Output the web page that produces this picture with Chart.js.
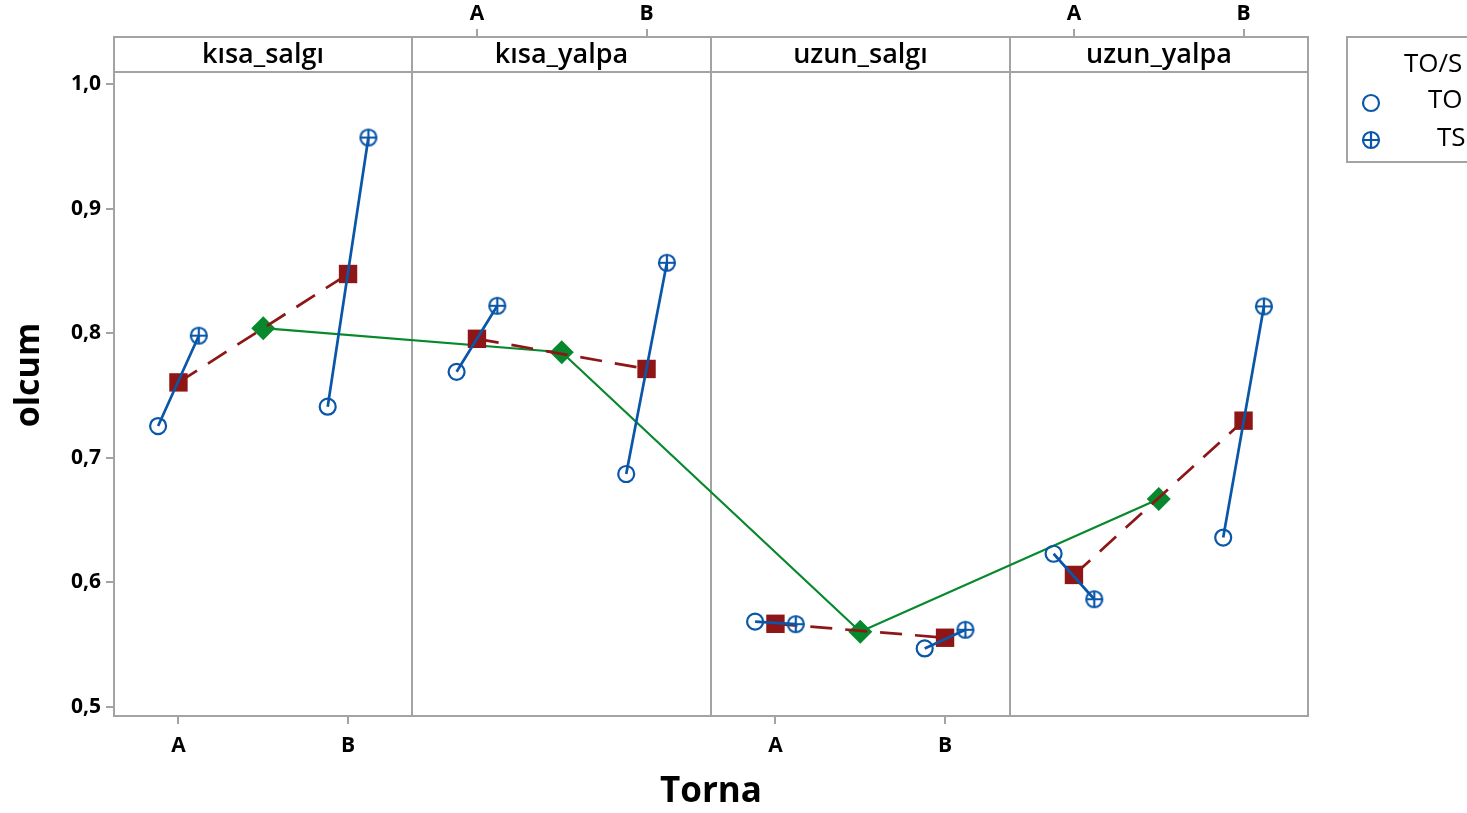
<!DOCTYPE html>
<html>
<head>
<meta charset="utf-8">
<title>olcum - Torna</title>
<script src="https://cdn.jsdelivr.net/npm/chart.js@4.4.1/dist/chart.umd.min.js"></script>
<style>
  html, body { margin: 0; padding: 0; background: #fff; }
  #wrap { width: 1467px; height: 813px; }
</style>
</head>
<body>
<div id="wrap"><canvas id="multiVari" width="1467" height="813"></canvas></div>
<script>
// panels (faktör) and Torna levels
const panels = ['kısa_salgı', 'kısa_yalpa', 'uzun_salgı', 'uzun_yalpa'];
const torna = ['A', 'B'];
const groups = ['TO', 'TS'];
const legendTitle = 'TO/S';

// olcum values, [A, B] for each panel
const toValues = [[0.7255, 0.741], [0.769, 0.687], [0.5685, 0.547], [0.623, 0.636]];
const tsValues = [[0.798, 0.957], [0.822, 0.8565], [0.5665, 0.562], [0.5865, 0.8215]];
const tornaMeans = [[0.7605, 0.8475], [0.7955, 0.7713], [0.5668, 0.5556], [0.606, 0.7298]];
const panelMeans = [0.804, 0.7847, 0.5604, 0.6669];

const yTicks = [0.5, 0.6, 0.7, 0.8, 0.9, 1.0];
const bottomPanels = [0, 2];   // A/B under these panels
const topPanels = [1, 3];      // A/B above these panels

const BLUE = '#0a56a8';
const RED = '#8e1616';
const GREEN = '#07882c';
const GRAY = '#a3a3a3';
const FONT = "'Open Sans', 'Noto Sans', sans-serif";

// x position inside the shared linear axis
const X0 = 0.62, PANEL_W = 1.76, DODGE = 0.12;
function xPos(p, t, off) {
    return p * PANEL_W + 1 + t + (off || 0);
}

// circle with a plus, for TS
function makePlus() {
    const c = document.createElement('canvas');
    c.width = 22; c.height = 22;
    const g = c.getContext('2d');
    g.strokeStyle = BLUE;
    g.lineWidth = 2.2;
    g.beginPath();
    g.arc(11, 11, 8, 0, 2 * Math.PI);
    g.moveTo(3, 11); g.lineTo(19, 11);
    g.moveTo(11, 3); g.lineTo(11, 19);
    g.stroke();
    return c;
}
const plusImg = makePlus();

// blue segments TO -> TS, broken with nulls
const bluePts = [];
const redPts = [];
panels.forEach((name, p) => {
    torna.forEach((lab, t) => {
        bluePts.push({ x: xPos(p, t, -DODGE), y: toValues[p][t], g: 'TO' });
        bluePts.push({ x: xPos(p, t, DODGE), y: tsValues[p][t], g: 'TS' });
        bluePts.push({ x: xPos(p, t, DODGE), y: null });
        redPts.push({ x: xPos(p, t), y: tornaMeans[p][t] });
    });
    redPts.push({ x: xPos(p, 1), y: null });
});
const greenPts = panelMeans.map((v, p) => ({ x: xPos(p, 0.5), y: v }));

function tickList(list) {
    const out = [];
    list.forEach(p => torna.forEach((lab, t) => out.push({ value: xPos(p, t) })));
    return out;
}

const framePlugin = {
    id: 'frame',
    beforeDatasetsDraw(chart) {
        const { ctx, chartArea: a, scales: { x } } = chart;
        ctx.save();
        ctx.strokeStyle = GRAY;
        ctx.lineWidth = 2;
        ctx.beginPath();
        for (let k = 1; k < panels.length; k++) {
            const px = Math.round(x.getPixelForValue(X0 + k * PANEL_W));
            ctx.moveTo(px, a.top);
            ctx.lineTo(px, a.bottom);
        }
        ctx.stroke();
        ctx.strokeRect(a.left, a.top, a.right - a.left, a.bottom - a.top);
        ctx.restore();
    },
    afterDraw(chart) {
        const { ctx, chartArea: a, scales: { x } } = chart;
        const stripTop = 37;
        ctx.save();
        // strip headers
        ctx.lineWidth = 2;
        ctx.strokeStyle = GRAY;
        ctx.font = '600 27px ' + FONT;
        ctx.textAlign = 'center';
        ctx.textBaseline = 'middle';
        panels.forEach((name, k) => {
            const l = Math.round(x.getPixelForValue(X0 + k * PANEL_W));
            const r = Math.round(x.getPixelForValue(X0 + (k + 1) * PANEL_W));
            ctx.fillStyle = '#fff';
            ctx.fillRect(l, stripTop, r - l, a.top - stripTop);
            ctx.strokeRect(l, stripTop, r - l, a.top - stripTop);
            ctx.fillStyle = '#000';
            ctx.fillText(name, (l + r) / 2, 55);
        });

        // y title
        ctx.save();
        ctx.translate(29, 375);
        ctx.rotate(-Math.PI / 2);
        ctx.font = 'bold 34px ' + FONT;
        ctx.fillText('olcum', 0, 0);
        ctx.restore();

        // legend box
        ctx.strokeRect(1347, 37, 200, 125);
        ctx.font = '26px ' + FONT;
        ctx.textAlign = 'left';
        ctx.fillStyle = '#000';
        ctx.fillText(legendTitle, 1404, 65);
        ctx.fillText(groups[0], 1428, 101);
        ctx.fillText(groups[1], 1437, 139);
        ctx.strokeStyle = BLUE;
        ctx.lineWidth = 2.2;
        ctx.beginPath();
        ctx.arc(1371, 103, 8, 0, 2 * Math.PI);
        ctx.stroke();
        ctx.drawImage(plusImg, 1360, 129);
        ctx.restore();
    }
};

const ctxChart = document.getElementById('multiVari').getContext('2d');
const chart = new Chart(ctxChart, {
    type: 'line',
    data: {
        datasets: [
            {
                label: 'TO/TS',
                data: bluePts,
                borderColor: BLUE,
                borderWidth: 2.7,
                spanGaps: false,
                pointStyle: c => (c.raw && c.raw.g === 'TS') ? plusImg : 'circle',
                pointRadius: 8,
                pointBorderWidth: 2.2,
                pointBorderColor: BLUE,
                pointBackgroundColor: 'rgba(0,0,0,0)',
                order: 1,
            },
            {
                label: 'Torna',
                data: redPts,
                borderColor: RED,
                borderWidth: 2.7,
                borderDash: [22, 13],
                spanGaps: false,
                pointStyle: 'rect',
                pointRadius: 13,
                pointBorderWidth: 0,
                pointBackgroundColor: RED,
                order: 2,
            },
            {
                label: 'panel',
                data: greenPts,
                borderColor: GREEN,
                borderWidth: 2.2,
                pointStyle: 'rectRot',
                pointRadius: 12,
                pointBorderWidth: 0,
                pointBackgroundColor: GREEN,
                order: 3,
            },
        ],
    },
    options: {
        responsive: false,
        animation: false,
        layout: { padding: { left: 0, right: 159, top: 0, bottom: 0 } },
        plugins: { legend: { display: false }, tooltip: { enabled: false } },
        scales: {
            x: {
                type: 'linear',
                position: 'bottom',
                min: X0,
                max: X0 + panels.length * PANEL_W,
                afterBuildTicks: s => { s.ticks = tickList(bottomPanels); },
                afterFit: s => { s.height = 97; },
                ticks: {
                    callback: (v, i) => torna[i % 2],
                    font: { family: FONT, size: 21, weight: 'bold' },
                    color: '#000',
                    padding: 9,
                    maxRotation: 0,
                    autoSkip: false,
                },
                grid: { drawOnChartArea: false, tickLength: 8, color: GRAY, lineWidth: 2 },
                border: { display: false },
                title: {
                    display: true,
                    text: 'Torna',
                    font: { family: FONT, size: 35, weight: 'bold' },
                    color: '#000',
                    padding: { top: 0, bottom: 0 },
                },
            },
            xTop: {
                type: 'linear',
                position: 'top',
                min: X0,
                max: X0 + panels.length * PANEL_W,
                afterBuildTicks: s => { s.ticks = tickList(topPanels); },
                afterFit: s => { s.height = 72; },
                ticks: {
                    callback: (v, i) => torna[i % 2],
                    font: { family: FONT, size: 21, weight: 'bold' },
                    color: '#000',
                    padding: 2,
                    maxRotation: 0,
                    autoSkip: false,
                },
                grid: { drawOnChartArea: false, tickLength: 43, color: GRAY, lineWidth: 2 },
                border: { display: false },
            },
            y: {
                min: 0.4928,
                max: 1.0096,
                afterBuildTicks: s => { s.ticks = yTicks.map(v => ({ value: v })); },
                afterFit: s => { s.width = 114; },
                ticks: {
                    callback: v => v.toFixed(1).replace('.', ','),
                    font: { family: FONT, size: 21, weight: 'bold' },
                    color: '#000',
                    padding: 5,
                },
                grid: { drawOnChartArea: false, tickLength: 8, color: GRAY, lineWidth: 2 },
                border: { display: false },
            },
        },
    },
    plugins: [framePlugin],
});
</script>
</body>
</html>
